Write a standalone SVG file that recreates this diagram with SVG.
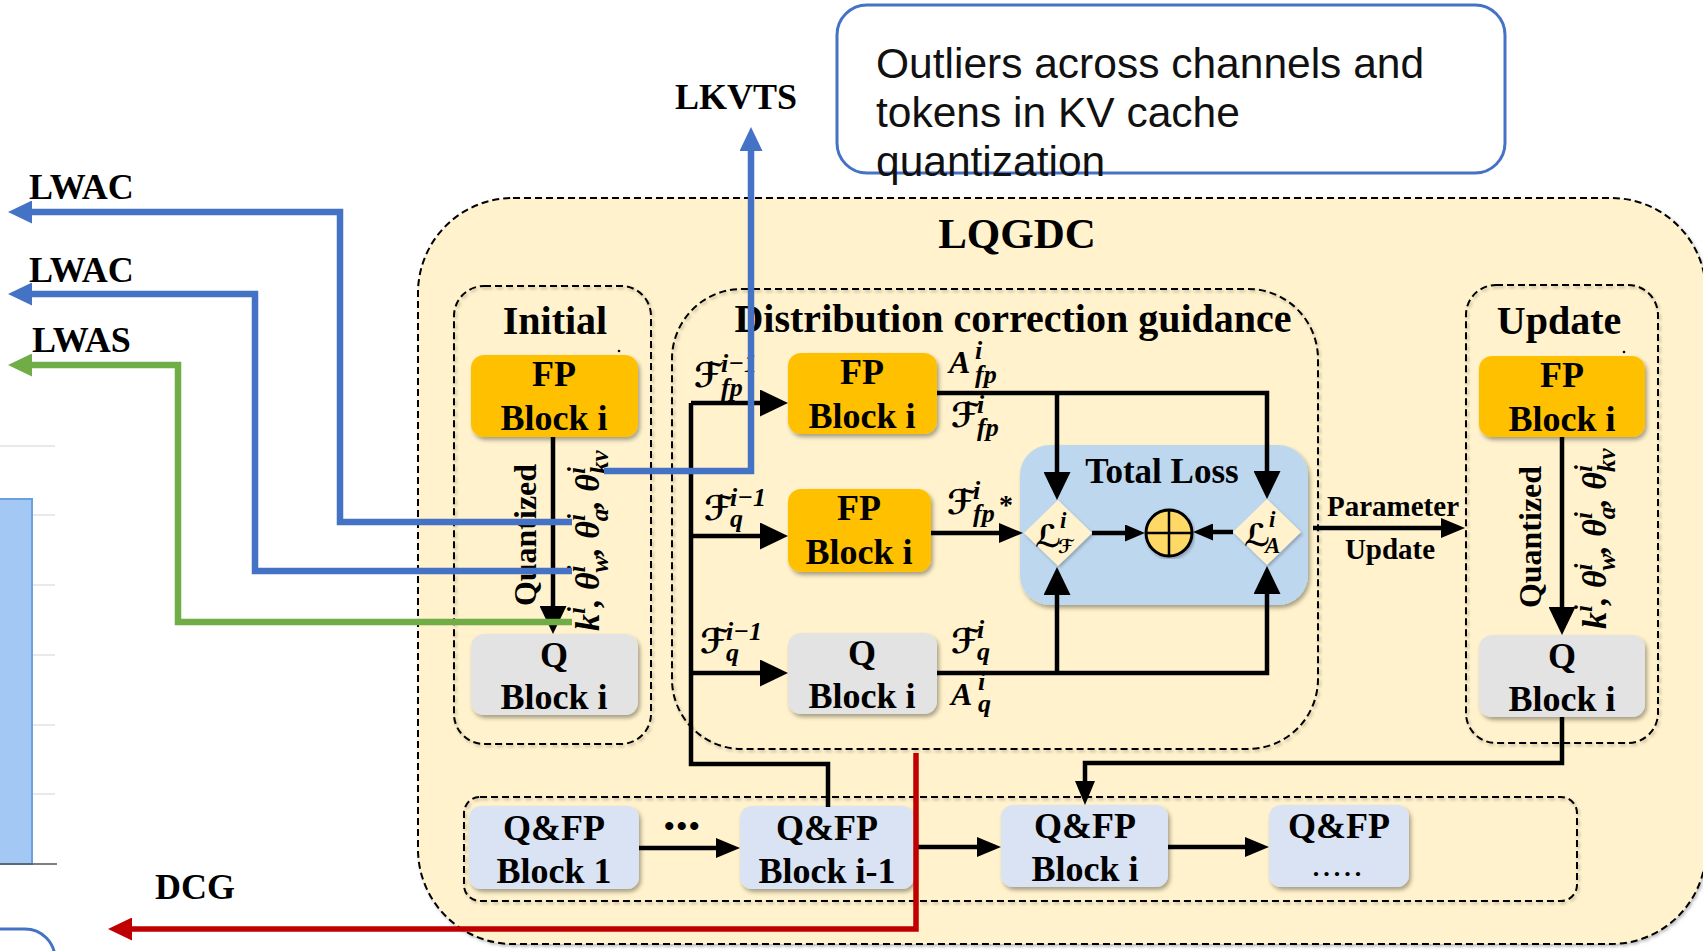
<svg xmlns="http://www.w3.org/2000/svg" width="1703" height="951" viewBox="0 0 1703 951">
  <style>
    .bold { font-family: "Liberation Serif", "Times New Roman", serif; font-weight: bold; fill: #000; }
    .title { font-size: 40px; text-anchor: middle; }
    .blk { font-size: 36px; text-anchor: middle; }
    .side { font-size: 36px; }
    .note { font-family: "Liberation Sans", Arial, sans-serif; font-size: 42.5px; fill: #111; }
    .mt { font-family: "Liberation Serif", "Times New Roman", serif; font-weight: bold; font-style: italic; fill: #000; font-size: 26px; }
    .rot { font-size: 34px; }
    .scr { font-family: "DejaVu Serif", "DejaVu Sans", serif; font-weight: bold; font-style: italic; }
    .big { font-size: 34px; }
    .cap { font-size: 32px; }
    .dash { fill: none; stroke: #000; stroke-width: 2; stroke-dasharray: 7 4; }
    .fp { fill: #FFC000; }
    .q { fill: #E3E3E3; }
    .qfp { fill: #DAE3F3; }
    .wire { fill: none; stroke: #000; stroke-width: 4.5; }
    .blue { fill: none; stroke: #4472C4; stroke-width: 6.5; }
    .green { fill: none; stroke: #70AD47; stroke-width: 6.5; }
    .red { fill: none; stroke: #C00000; stroke-width: 5.5; }
  </style>
  <defs>
    <filter id="shadow" x="-10%" y="-10%" width="130%" height="140%">
      <feDropShadow dx="2" dy="3" stdDeviation="2" flood-color="#000" flood-opacity="0.35"/>
    </filter>
    <filter id="soft" x="-5%" y="-5%" width="110%" height="110%">
      <feDropShadow dx="1.5" dy="2" stdDeviation="1.5" flood-color="#000" flood-opacity="0.25"/>
    </filter>
    <marker id="ah-lg" markerUnits="userSpaceOnUse" markerWidth="28" markerHeight="27" viewBox="0 0 28 27" refX="2" refY="13.5" orient="auto">
      <path d="M0,0 L28,13.5 L0,27 Z" fill="#000"/>
    </marker>
    <marker id="ah-md" markerUnits="userSpaceOnUse" markerWidth="24" markerHeight="20" viewBox="0 0 24 20" refX="2" refY="10" orient="auto">
      <path d="M0,0 L24,10 L0,20 Z" fill="#000"/>
    </marker>
    <marker id="ah-sm" markerUnits="userSpaceOnUse" markerWidth="20" markerHeight="17" viewBox="0 0 20 17" refX="2" refY="8.5" orient="auto">
      <path d="M0,0 L20,8.5 L0,17 Z" fill="#000"/>
    </marker>
    <marker id="ah-blue" markerUnits="userSpaceOnUse" markerWidth="24" markerHeight="23" viewBox="0 0 24 23" refX="2" refY="11.5" orient="auto">
      <path d="M0,0 L24,11.5 L0,23 Z" fill="#4472C4"/>
    </marker>
    <marker id="ah-green" markerUnits="userSpaceOnUse" markerWidth="24" markerHeight="23" viewBox="0 0 24 23" refX="2" refY="11.5" orient="auto">
      <path d="M0,0 L24,11.5 L0,23 Z" fill="#70AD47"/>
    </marker>
    <marker id="ah-red" markerUnits="userSpaceOnUse" markerWidth="24" markerHeight="23" viewBox="0 0 24 23" refX="2" refY="11.5" orient="auto">
      <path d="M0,0 L24,11.5 L0,23 Z" fill="#C00000"/>
    </marker>
  </defs>

  <rect width="1703" height="951" fill="#fff"/>

  <!-- partial bar chart at the left border -->
  <g id="chart-edge">
    <g stroke="#E2E2E2" stroke-width="1.5">
      <line x1="0" y1="446" x2="55" y2="446"/>
      <line x1="0" y1="515" x2="55" y2="515"/>
      <line x1="0" y1="585" x2="55" y2="585"/>
      <line x1="0" y1="655" x2="55" y2="655"/>
      <line x1="0" y1="725" x2="55" y2="725"/>
      <line x1="0" y1="794" x2="55" y2="794"/>
    </g>
    <rect x="-3" y="499" width="35" height="365" fill="#A4C8F4" stroke="#6D9EE0" stroke-width="2"/>
    <line x1="0" y1="864" x2="57" y2="864" stroke="#555" stroke-width="1.5"/>
  </g>
  <rect id="corner-box" x="-60" y="929" width="115" height="70" rx="30" fill="#fff" stroke="#4472C4" stroke-width="3"/>

  <!-- callout -->
  <g id="callout">
    <rect x="837" y="5" width="668" height="168" rx="30" fill="#fff" stroke="#4472C4" stroke-width="3"/>
    <text class="note" x="876" y="78">Outliers across channels and</text>
    <text class="note" x="876" y="127">tokens in KV cache</text>
    <text class="note" x="876" y="176">quantization</text>
  </g>

  <!-- LQGDC container -->
  <g id="lqgdc">
    <rect x="418" y="198" width="1288" height="746" rx="95" class="dash" style="fill:#FFF2CC" filter="url(#soft)"/>
    <text class="bold" x="1017" y="248" font-size="43" text-anchor="middle">LQGDC</text>
  </g>

  <!-- Initial stage -->
  <g id="initial">
    <rect class="dash" x="454" y="286" width="197" height="458" rx="30" filter="url(#soft)"/>
    <text class="bold title" x="555" y="334">Initial</text>
    <circle cx="619" cy="351" r="1.3" fill="#000"/>
  </g>
  <g id="init-fp">
    <rect class="fp" x="471" y="355" width="167" height="82" rx="13" filter="url(#shadow)"/>
    <text class="bold blk" x="554" y="386">FP</text>
    <text class="bold blk" x="554" y="430">Block i</text>
  </g>
  <g id="init-q">
    <rect class="q" x="471" y="634" width="167" height="81" rx="13" filter="url(#shadow)"/>
    <text class="bold blk" x="554" y="667">Q</text>
    <text class="bold blk" x="554" y="709">Block i</text>
  </g>

  <!-- Distribution correction guidance -->
  <g id="dcg">
    <rect class="dash" x="672" y="289" width="646" height="460" rx="70" filter="url(#soft)"/>
    <text class="bold title" x="1013" y="332">Distribution correction guidance</text>
  </g>
  <g id="dcg-fp-top">
    <rect class="fp" x="788" y="353" width="149" height="81" rx="13" filter="url(#shadow)"/>
    <text class="bold blk" x="862" y="384">FP</text>
    <text class="bold blk" x="862" y="428">Block i</text>
  </g>
  <g id="dcg-fp-mid">
    <rect class="fp" x="788" y="489" width="143" height="83" rx="13" filter="url(#shadow)"/>
    <text class="bold blk" x="859" y="520">FP</text>
    <text class="bold blk" x="859" y="564">Block i</text>
  </g>
  <g id="dcg-q">
    <rect class="q" x="788" y="633" width="149" height="81" rx="13" filter="url(#shadow)"/>
    <text class="bold blk" x="862" y="665">Q</text>
    <text class="bold blk" x="862" y="708">Block i</text>
  </g>
  <g id="total-loss">
    <rect x="1020" y="445" width="288" height="160" rx="30" fill="#BDD7EE" filter="url(#shadow)"/>
    <text class="bold" x="1162" y="483" font-size="35" text-anchor="middle">Total Loss</text>
  </g>
  <g id="loss-f">
    <path d="M1058,500 L1092,533 L1058,566 L1024,533 Z" fill="#FFF2CC" filter="url(#soft)"/>
    <text class="mt"><tspan class="scr" x="1035" y="547" font-size="31">ℒ</tspan><tspan x="1060" y="528" font-size="23">i</tspan><tspan class="scr" x="1058" y="553" font-size="19">ℱ</tspan></text>
  </g>
  <g id="loss-a">
    <path d="M1267,499 L1301,532 L1267,565 L1233,532 Z" fill="#FFF2CC" filter="url(#soft)"/>
    <text class="mt"><tspan class="scr" x="1244" y="546" font-size="31">ℒ</tspan><tspan x="1269" y="527" font-size="23">i</tspan><tspan x="1265" y="553" font-size="23">A</tspan></text>
  </g>
  <g id="sum">
    <circle cx="1169" cy="533" r="23" fill="#FFD966" stroke="#000" stroke-width="3" filter="url(#soft)"/>
    <path d="M1146,533 H1192 M1169,510 V556" stroke="#000" stroke-width="2.5"/>
  </g>

  <!-- Update stage -->
  <g id="update">
    <rect class="dash" x="1466" y="285" width="192" height="458" rx="30" filter="url(#soft)"/>
    <text class="bold title" x="1559" y="334">Update</text>
    <circle cx="1624" cy="352" r="1.3" fill="#000"/>
  </g>
  <g id="upd-fp">
    <rect class="fp" x="1479" y="356" width="166" height="81" rx="13" filter="url(#shadow)"/>
    <text class="bold blk" x="1562" y="387">FP</text>
    <text class="bold blk" x="1562" y="431">Block i</text>
  </g>
  <g id="upd-q">
    <rect class="q" x="1479" y="635" width="166" height="82" rx="13" filter="url(#shadow)"/>
    <text class="bold blk" x="1562" y="668">Q</text>
    <text class="bold blk" x="1562" y="711">Block i</text>
  </g>

  <!-- block chain -->
  <g id="chain">
    <rect class="dash" x="464" y="797" width="1113" height="104" rx="16" filter="url(#soft)"/>
  </g>
  <g id="chain-1">
    <rect class="qfp" x="469" y="806" width="170" height="83" rx="12" filter="url(#shadow)"/>
    <text class="bold blk" x="554" y="840">Q&amp;FP</text>
    <text class="bold blk" x="554" y="883">Block 1</text>
  </g>
  <text class="bold" x="664" y="836" font-size="30" letter-spacing="2">•••</text>
  <g id="chain-im1">
    <rect class="qfp" x="740" y="806" width="174" height="83" rx="12" filter="url(#shadow)"/>
    <text class="bold blk" x="827" y="840">Q&amp;FP</text>
    <text class="bold blk" x="827" y="883">Block i-1</text>
  </g>
  <g id="chain-i">
    <rect class="qfp" x="1001" y="805" width="167" height="82" rx="12" filter="url(#shadow)"/>
    <text class="bold blk" x="1085" y="838">Q&amp;FP</text>
    <text class="bold blk" x="1085" y="881">Block i</text>
  </g>
  <g id="chain-more">
    <rect class="qfp" x="1269" y="805" width="140" height="82" rx="12" filter="url(#shadow)"/>
    <text class="bold blk" x="1339" y="838">Q&amp;FP</text>
    <text class="bold" x="1339" y="876" font-size="26" letter-spacing="4" text-anchor="middle">.....</text>
  </g>

  <!-- black connectors -->
  <g id="connectors">
    <path class="wire" d="M553,437 V608" marker-end="url(#ah-lg)"/>
    <path class="wire" d="M1562,437 V609" marker-end="url(#ah-lg)"/>
    <path class="wire" d="M828,807 V764 H691 V403"/>
    <path class="wire" d="M691,403 H762" marker-end="url(#ah-lg)"/>
    <path class="wire" d="M691,536 H762" marker-end="url(#ah-lg)"/>
    <path class="wire" d="M691,673 H762" marker-end="url(#ah-lg)"/>
    <path class="wire" d="M937,393 H1267 V473" marker-end="url(#ah-lg)"/>
    <path class="wire" d="M1057,393 V474" marker-end="url(#ah-lg)"/>
    <path class="wire" d="M931,533 H1001" marker-end="url(#ah-md)"/>
    <path class="wire" d="M937,673 H1267 V592" marker-end="url(#ah-lg)"/>
    <path class="wire" d="M1057,673 V593" marker-end="url(#ah-lg)"/>
    <path class="wire" d="M1092,533 H1127" marker-end="url(#ah-sm)"/>
    <path class="wire" d="M1233,532 H1211" marker-end="url(#ah-sm)"/>
    <path class="wire" d="M1313,528 H1443" marker-end="url(#ah-md)"/>
    <path class="wire" d="M1562,717 V763 H1085 V783" marker-end="url(#ah-md)"/>
    <path class="wire" d="M639,848 H718" marker-end="url(#ah-md)"/>
    <path class="wire" d="M914,847 H979" marker-end="url(#ah-md)"/>
    <path class="wire" d="M1168,847 H1247" marker-end="url(#ah-md)"/>
  </g>

  <!-- connector labels -->
  <g id="labels">
    <text class="bold" x="1393" y="516" font-size="29" text-anchor="middle">Parameter</text>
    <text class="bold" x="1390" y="559" font-size="29" text-anchor="middle">Update</text>

    <text class="bold" transform="translate(536,535) rotate(-90)" font-size="32" text-anchor="middle">Quantized</text>
    <text class="bold" transform="translate(1541,537) rotate(-90)" font-size="32" text-anchor="middle">Quantized</text>

    <text class="mt rot" transform="translate(599,631) rotate(-90)">k<tspan font-size="25" dy="-14">i</tspan><tspan dy="14">, θ</tspan><tspan font-size="25" dy="-14">i</tspan><tspan font-size="25" dx="-7" dy="23">w</tspan><tspan dy="-9">, θ</tspan><tspan font-size="25" dy="-14">i</tspan><tspan font-size="25" dx="-7" dy="23">a</tspan><tspan dy="-9">, θ</tspan><tspan font-size="25" dy="-14">i</tspan><tspan font-size="25" dx="-7" dy="23">kv</tspan></text>
    <text class="mt rot" transform="translate(1606,629) rotate(-90)">k<tspan font-size="25" dy="-14">i</tspan><tspan dy="14">, θ</tspan><tspan font-size="25" dy="-14">i</tspan><tspan font-size="25" dx="-7" dy="23">w</tspan><tspan dy="-9">, θ</tspan><tspan font-size="25" dy="-14">i</tspan><tspan font-size="25" dx="-7" dy="23">a</tspan><tspan dy="-9">, θ</tspan><tspan font-size="25" dy="-14">i</tspan><tspan font-size="25" dx="-7" dy="23">kv</tspan></text>

    <!-- inputs of the guidance stage -->
    <text class="mt"><tspan class="scr big" x="694" y="387">ℱ</tspan><tspan x="721" y="372">i−1</tspan><tspan x="721" y="396">fp</tspan></text>
    <text class="mt"><tspan class="scr big" x="704" y="520">ℱ</tspan><tspan x="730" y="506">i−1</tspan><tspan x="730" y="527">q</tspan></text>
    <text class="mt"><tspan class="scr big" x="700" y="653">ℱ</tspan><tspan x="726" y="640">i−1</tspan><tspan x="726" y="661">q</tspan></text>

    <!-- outputs of the guidance stage -->
    <text class="mt"><tspan class="cap" x="949" y="373">A</tspan><tspan x="975" y="359">i</tspan><tspan x="975" y="383">fp</tspan></text>
    <text class="mt"><tspan class="scr big" x="951" y="427">ℱ</tspan><tspan x="977" y="413">i</tspan><tspan x="977" y="436">fp</tspan></text>
    <text class="mt"><tspan class="scr big" x="947" y="514">ℱ</tspan><tspan x="973" y="499">i</tspan><tspan x="973" y="522">fp</tspan><tspan font-style="normal" font-size="28" x="999" y="514">*</tspan></text>
    <text class="mt"><tspan class="scr big" x="951" y="653">ℱ</tspan><tspan x="977" y="638">i</tspan><tspan x="977" y="660">q</tspan></text>
    <text class="mt"><tspan class="cap" x="951" y="705">A</tspan><tspan x="978" y="690">i</tspan><tspan x="978" y="712">q</tspan></text>
  </g>

  <!-- outgoing colored links -->
  <g id="links">
    <path class="blue" d="M572,522 H340 V212 H30" marker-end="url(#ah-blue)"/>
    <path class="blue" d="M572,571 H255 V294 H30" marker-end="url(#ah-blue)"/>
    <path class="green" d="M572,622 H178 V365 H30" marker-end="url(#ah-green)"/>
    <path class="blue" d="M604,471 H751 V149" marker-end="url(#ah-blue)"/>
    <path class="red" d="M916,753 V929 H130" marker-end="url(#ah-red)"/>
  </g>

  <g id="link-labels">
    <text class="bold side" x="29" y="199">LWAC</text>
    <text class="bold side" x="29" y="282">LWAC</text>
    <text class="bold side" x="32" y="352">LWAS</text>
    <text class="bold side" x="736" y="109" text-anchor="middle">LKVTS</text>
    <text class="bold side" x="155" y="899">DCG</text>
  </g>
</svg>
